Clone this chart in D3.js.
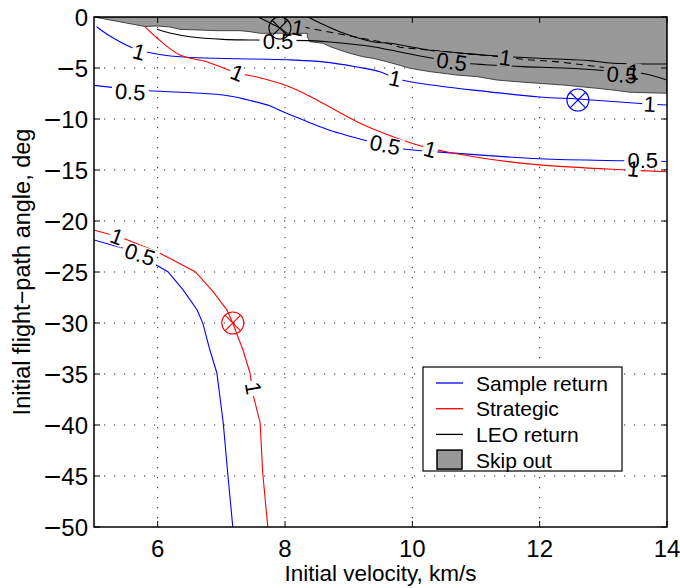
<!DOCTYPE html>
<html><head><meta charset="utf-8">
<script src="https://cdn.jsdelivr.net/npm/d3@7"></script>
<style>
body{margin:0;background:#fff;}
text{font-family:"Liberation Sans",Arial,Helvetica,sans-serif;fill:#000;}
</style>
</head><body>
<svg id="chart" width="680" height="588"></svg>
<script>
// ---------- data ----------
const velocityTicks = [6, 8, 10, 12, 14];
const angleTicks = [0, -5, -10, -15, -20, -25, -30, -35, -40, -45, -50];

// Skip-out region (upper boundary is gamma = 0)
const skipOutBoundary = [
  [5.0, 0], [14.0, 0], [14.0, -7.48], [13.42, -7.38], [13.15, -7.16], [12.90, -6.99],
  [12.37, -6.67], [11.85, -6.44], [11.64, -6.34], [11.33, -6.18], [11.02, -5.85],
  [10.70, -5.69], [10.28, -5.36], [9.96, -5.03], [9.81, -4.75], [9.60, -4.38],
  [9.38, -4.05], [9.22, -3.89], [9.02, -3.56], [8.86, -3.24], [8.71, -2.91],
  [8.60, -2.58], [8.39, -2.42], [8.35, -1.93], [8.35, -1.60], [7.61, -1.60],
  [7.45, -1.44], [7.29, -1.34], [6.93, -1.34], [6.35, -1.21], [6.19, -0.98],
  [5.99, -0.88], [5.80, -0.93]
];

// Sample return contours
const sampleUpper1 = [
  [5.04, -0.95], [5.25, -1.86], [5.61, -3.04], [5.80, -3.40], [6.35, -3.90],
  [8.08, -4.20], [8.60, -4.40], [9.13, -4.90], [9.49, -5.36], [9.73, -6.00],
  [10.01, -6.40], [12.00, -7.84], [12.60, -8.04], [13.69, -8.53], [14.0, -8.63]
];
const sampleUpper05 = [
  [5.0, -6.70], [5.83, -7.20], [7.03, -7.65], [7.40, -8.10], [7.76, -8.70],
  [7.97, -9.30], [8.35, -10.26], [8.70, -11.10], [9.33, -12.20], [9.80, -12.90],
  [10.54, -13.30], [12.00, -13.90], [13.37, -14.10], [14.0, -14.17]
];
const sampleLower05 = [
  [5.0, -21.86], [5.46, -22.68], [5.93, -24.15], [6.16, -24.97], [6.40, -26.76],
  [6.62, -28.73], [6.71, -30.03], [6.82, -32.65], [6.93, -34.90], [7.03, -39.80],
  [7.10, -44.70], [7.18, -50.0]
];

// Strategic contours
const strategicUpper1 = [
  [5.80, -0.95], [5.99, -2.06], [6.35, -3.73], [6.77, -4.38], [7.25, -5.50],
  [7.56, -5.88], [8.08, -6.86], [8.50, -8.14], [9.13, -10.26], [9.49, -11.24],
  [10.17, -12.70], [11.06, -13.80], [12.00, -14.50], [13.37, -15.00], [14.0, -15.17]
];
const strategicLower1 = [
  [5.0, -20.88], [5.46, -21.70], [5.99, -23.01], [6.59, -24.97], [6.87, -26.93],
  [7.09, -28.73], [7.18, -30.03], [7.34, -32.65], [7.45, -34.90], [7.50, -37.06],
  [7.61, -39.80], [7.65, -44.70], [7.73, -50.0]
];

// LEO return contours
const leoLower05 = [
  [5.99, -1.21], [6.19, -1.57], [6.51, -1.93], [7.03, -2.19], [7.45, -2.25],
  [8.39, -2.32], [8.71, -2.45], [9.38, -2.91], [9.65, -3.24], [10.32, -4.05],
  [10.86, -4.54], [11.22, -4.71], [11.74, -4.87], [12.37, -5.00], [12.90, -5.20],
  [13.58, -5.49], [14.0, -6.18]
];
const leoUpper = [
  [8.36, 0], [8.55, -0.59], [8.86, -1.44], [9.38, -2.42], [9.65, -2.58],
  [9.96, -2.91], [10.32, -3.30], [10.70, -3.50], [11.11, -3.73], [11.49, -3.89],
  [12.00, -4.05], [12.79, -4.28], [13.10, -4.51], [14.0, -4.61]
];
const leoDashed1 = [
  [8.28, -0.98], [8.86, -1.67], [9.60, -2.55], [9.81, -2.97], [10.95, -3.66],
  [11.38, -3.89], [11.74, -4.15], [12.32, -4.41], [12.95, -4.90], [13.58, -5.39]
];
const leoDiagonal = [[7.58, 0], [7.92, -1.08], [8.08, -1.80]];

// Design-point markers
const markers = [
  {v: 7.92, g: -1.08, color: "#000"},
  {v: 12.60, g: -8.14, color: "#00f"},
  {v: 7.18, g: -30.0, color: "#f00"}
];

// Contour labels
const contourLabels = [
  {v: 5.71, g: -3.43, t: "1", a: 15},
  {v: 5.57, g: -7.35, t: "0.5", a: 4},
  {v: 7.25, g: -5.50, t: "1", a: 22},
  {v: 9.73, g: -6.05, t: "1", a: 12},
  {v: 9.57, g: -12.55, t: "0.5", a: 12},
  {v: 10.28, g: -13.0, t: "1", a: 15},
  {v: 13.73, g: -8.55, t: "1", a: 3},
  {v: 13.62, g: -14.05, t: "0.5", a: 0},
  {v: 13.47, g: -14.9, t: "1", a: 5},
  {v: 5.36, g: -21.55, t: "1", a: 20},
  {v: 5.72, g: -23.3, t: "0.5", a: 18},
  {v: 7.50, g: -36.4, t: "1", a: 80},
  {v: 7.89, g: -2.45, t: "0.5", a: 0},
  {v: 8.20, g: -1.08, t: "1", a: 10},
  {v: 10.62, g: -4.41, t: "0.5", a: 8},
  {v: 11.46, g: -4.02, t: "1", a: 8},
  {v: 13.29, g: -5.69, t: "0.5", a: 5},
  {v: 13.47, g: -5.39, t: "1", a: 5}
];

const legendItems = ["Sample return", "Strategic", "LEO return", "Skip out"];
const legendColors = ["#00f", "#f00", "#000", "#999"];

// ---------- layout ----------
const svg = d3.select("#chart");
const L = 94, R = 667, T = 17, B = 527;
const x = d3.scaleLinear().domain([5, 14]).range([L, R]);
const y = d3.scaleLinear().domain([-50, 0]).range([B, T]);

const defs = svg.append("defs");
defs.append("clipPath").attr("id", "plotclip")
  .append("rect").attr("x", L).attr("y", T).attr("width", R - L).attr("height", B - T);

// label mask (gaps in contour lines)
const mask = defs.append("mask").attr("id", "labelmask").attr("maskUnits", "userSpaceOnUse")
  .attr("x", 0).attr("y", 0).attr("width", 680).attr("height", 588);
mask.append("rect").attr("x", 0).attr("y", 0).attr("width", 680).attr("height", 588).attr("fill", "#fff");
const labelFs = 22;
contourLabels.forEach(d => {
  const w = d.t.length * labelFs * 0.5 + 4;
  const h = labelFs * 0.8;
  mask.append("rect")
    .attr("x", -w / 2).attr("y", -h / 2).attr("width", w).attr("height", h)
    .attr("transform", `translate(${x(d.v)},${y(d.g)}) rotate(${d.a})`)
    .attr("fill", "#000");
});

// grid (dotted)
const grid = svg.append("g");
velocityTicks.filter(v => v > 5 && v < 14).forEach(v => {
  grid.append("line").attr("x1", x(v)).attr("x2", x(v)).attr("y1", T).attr("y2", B)
    .attr("stroke", "#222").attr("stroke-width", 1).attr("stroke-dasharray", "1.2,8.8");
});
angleTicks.filter(g => g < 0 && g > -50).forEach(g => {
  grid.append("line").attr("x1", L).attr("x2", R).attr("y1", y(g)).attr("y2", y(g))
    .attr("stroke", "#222").attr("stroke-width", 1).attr("stroke-dasharray", "1.2,8.8");
});

const plot = svg.append("g").attr("clip-path", "url(#plotclip)");

// skip-out area
plot.append("path")
  .attr("d", d3.line().x(d => x(d[0])).y(d => y(d[1])).curve(d3.curveLinearClosed)(skipOutBoundary))
  .attr("fill", "#999").attr("stroke", "#222").attr("stroke-width", 0.8);

const lines = plot.append("g").attr("mask", "url(#labelmask)");
const smooth = d3.line().x(d => x(d[0])).y(d => y(d[1])).curve(d3.curveCatmullRom.alpha(0.5));
const straight = d3.line().x(d => x(d[0])).y(d => y(d[1]));

function drawLine(data, color, gen, dash) {
  lines.append("path").attr("d", gen(data)).attr("fill", "none")
    .attr("stroke", color).attr("stroke-width", 1.1)
    .attr("stroke-dasharray", dash || null);
}
drawLine(sampleUpper1, "#00f", smooth);
drawLine(sampleUpper05, "#00f", smooth);
drawLine(sampleLower05, "#00f", straight);
drawLine(strategicUpper1, "#f00", smooth);
drawLine(strategicLower1, "#f00", straight);
drawLine(leoLower05, "#000", smooth);
drawLine(leoUpper, "#000", smooth);
drawLine(leoDashed1, "#000", straight, "7,5");
drawLine(leoDiagonal, "#000", straight);

// markers
const r = 11;
markers.forEach(m => {
  const g = plot.append("g").attr("transform", `translate(${x(m.v)},${y(m.g)})`);
  g.append("circle").attr("r", r).attr("fill", "none").attr("stroke", m.color).attr("stroke-width", 1.1);
  const k = r * Math.SQRT1_2;
  g.append("line").attr("x1", -k).attr("y1", -k).attr("x2", k).attr("y2", k).attr("stroke", m.color).attr("stroke-width", 1.1);
  g.append("line").attr("x1", -k).attr("y1", k).attr("x2", k).attr("y2", -k).attr("stroke", m.color).attr("stroke-width", 1.1);
});

// contour labels
contourLabels.forEach(d => {
  svg.append("text")
    .attr("transform", `translate(${x(d.v)},${y(d.g)}) rotate(${d.a})`)
    .attr("text-anchor", "middle").attr("dominant-baseline", "central")
    .attr("font-size", labelFs).text(d.t);
});

// axes box + ticks
const axisG = svg.append("g");
axisG.append("rect").attr("x", L).attr("y", T).attr("width", R - L).attr("height", B - T)
  .attr("fill", "none").attr("stroke", "#000").attr("stroke-width", 1.5);
const tl = 6;
const tickFs = 24;
velocityTicks.forEach(v => {
  axisG.append("line").attr("x1", x(v)).attr("x2", x(v)).attr("y1", B).attr("y2", B - tl).attr("stroke", "#000");
  axisG.append("line").attr("x1", x(v)).attr("x2", x(v)).attr("y1", T).attr("y2", T + tl).attr("stroke", "#000");
  axisG.append("text").attr("x", x(v)).attr("y", B + 30).attr("text-anchor", "middle")
    .attr("font-size", tickFs).text(v);
});
angleTicks.forEach(g => {
  axisG.append("line").attr("x1", L).attr("x2", L + tl).attr("y1", y(g)).attr("y2", y(g)).attr("stroke", "#000");
  axisG.append("line").attr("x1", R).attr("x2", R - tl).attr("y1", y(g)).attr("y2", y(g)).attr("stroke", "#000");
  const t = axisG.append("text").attr("x", L - 6).attr("y", y(g) + tickFs * 0.36)
    .attr("text-anchor", "end").attr("font-size", tickFs);
  if (g < 0) {
    t.append("tspan").attr("font-size", 30).attr("dy", 2).text("\u2212");
    t.append("tspan").attr("dy", -2).text(String(Math.abs(g)));
  } else {
    t.text(String(g));
  }
});

// axis titles
const titleFs = 22.5;
svg.append("text").attr("x", (L + R) / 2).attr("y", 581).attr("text-anchor", "middle")
  .attr("font-size", titleFs).text("Initial velocity, km/s");
svg.append("text").attr("transform", `translate(30,${(T + B) / 2}) rotate(-90)`)
  .attr("text-anchor", "middle").attr("font-size", 23.5).text("Initial flight\u2212path angle, deg");

// legend
const lg = svg.append("g");
lg.append("rect").attr("x", 423).attr("y", 367).attr("width", 199).attr("height", 104)
  .attr("fill", "#fff").attr("stroke", "#000").attr("stroke-width", 1.2);
legendItems.forEach((name, i) => {
  const cy = 383 + i * 25.7;
  if (i < 3) {
    lg.append("line").attr("x1", 436).attr("x2", 463).attr("y1", cy).attr("y2", cy)
      .attr("stroke", legendColors[i]).attr("stroke-width", 1.3);
  } else {
    lg.append("rect").attr("x", 437).attr("y", cy - 10).attr("width", 25).attr("height", 19)
      .attr("fill", legendColors[i]).attr("stroke", "#000").attr("stroke-width", 1.5);
  }
  lg.append("text").attr("x", 476).attr("y", cy).attr("dominant-baseline", "central")
    .attr("font-size", 21).text(name);
});
</script>
</body></html>
